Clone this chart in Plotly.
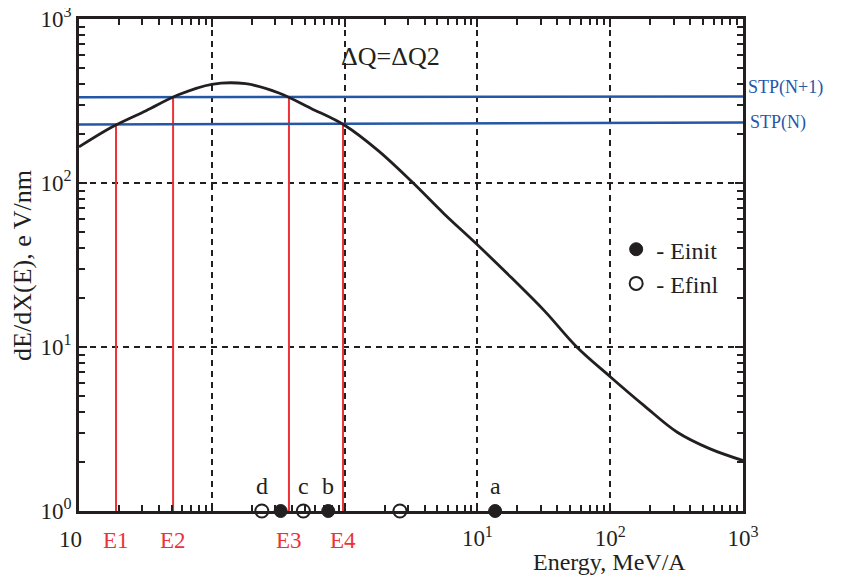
import math
import plotly.graph_objects as go

# Stopping-power curve (MeV/A vs eV/nm)
energy = [0.01, 0.018, 0.032, 0.056, 0.1, 0.18, 0.32, 0.56, 1.0, 1.8, 3.2,
          5.6, 10, 18, 32, 56, 100, 180, 320, 560, 1000]
dedx = [166, 221, 276, 345, 400, 403, 354, 285, 225, 157, 102,
        65.0, 42.0, 26.5, 16.6, 10.0, 6.59, 4.39, 3.02, 2.40, 2.03]

# STP levels (left end, right end)
stp_x = [0.01, 1000]
stp_n1 = [333, 337]
stp_n = [227, 234]

# Vertical markers E1..E4
e_names = ["E1", "E2", "E3", "E4"]
e_vals = [0.0190, 0.0511, 0.381, 0.973]
e_tops = [227, 333, 333, 227]

# Points on the energy axis
init_x = [0.330, 0.753, 13.6]
finl_x = [0.238, 0.489, 2.61]
point_labels = ["d", "c", "b", "a"]
label_x = [0.238, 0.489, 0.753, 13.6]

x_tickvals = [0.01, 0.1, 1, 10, 100, 1000]
x_ticktext = ["", "", "", "10<sup>1</sup>", "10<sup>2</sup>", "10<sup>3</sup>"]
x_first_label = "10"
y_tickvals = [1, 10, 100, 1000]
y_ticktext = ["10<sup>0</sup>", "10<sup>1</sup>", "10<sup>2</sup>", "10<sup>3</sup>"]

BLUE = "#2557a7"
RED = "#ec3237"
INK = "#231f20"
FONT = "Liberation Serif"

fig = go.Figure()

for name, ex, top in zip(e_names, e_vals, e_tops):
    fig.add_trace(go.Scatter(x=[ex, ex], y=[1, top], mode="lines",
                             line=dict(color=RED, width=2), showlegend=False,
                             hoverinfo="skip"))

fig.add_trace(go.Scatter(x=stp_x, y=stp_n1, mode="lines",
                         line=dict(color=BLUE, width=2.5), showlegend=False))
fig.add_trace(go.Scatter(x=stp_x, y=stp_n, mode="lines",
                         line=dict(color=BLUE, width=2.5), showlegend=False))

fig.add_trace(go.Scatter(x=energy, y=dedx, mode="lines",
                         line=dict(color=INK, width=2.8, shape="spline", smoothing=1.0),
                         showlegend=False))

fig.add_trace(go.Scatter(x=init_x, y=[1] * len(init_x), mode="markers", name="- Einit",
                         marker=dict(symbol="circle", size=13, color=INK,
                                     line=dict(color=INK, width=1)),
                         cliponaxis=False))
fig.add_trace(go.Scatter(x=finl_x, y=[1] * len(finl_x), mode="markers", name="- Efinl",
                         marker=dict(symbol="circle", size=13, color="white",
                                     line=dict(color=INK, width=2)),
                         cliponaxis=False))

annotations = []
for name, ex in zip(e_names, e_vals):
    annotations.append(dict(x=math.log10(ex), y=0, xref="x", yref="y", text=name,
                            showarrow=False, yshift=-29, xanchor="center", yanchor="middle",
                            font=dict(family=FONT, size=23, color=RED)))
for lab, lx in zip(point_labels, label_x):
    annotations.append(dict(x=math.log10(lx), y=0, xref="x", yref="y", text=lab,
                            showarrow=False, yshift=25, xanchor="center", yanchor="middle",
                            font=dict(family=FONT, size=24, color=INK)))
annotations.append(dict(x=math.log10(x_tickvals[0]), y=0, xref="x", yref="y",
                        text=x_first_label, showarrow=False, xshift=-9, yshift=-28,
                        xanchor="center", yanchor="middle",
                        font=dict(family=FONT, size=23, color=INK)))
annotations.append(dict(x=1.0, y=math.log10(stp_n1[1]), xref="paper", yref="y",
                        text="STP(N+1)", showarrow=False, xanchor="left", yanchor="middle",
                        xshift=3, yshift=9,
                        font=dict(family=FONT, size=18, color=BLUE)))
annotations.append(dict(x=1.0, y=math.log10(stp_n[1]), xref="paper", yref="y",
                        text="STP(N)", showarrow=False, xanchor="left", yanchor="middle",
                        xshift=5, yshift=0,
                        font=dict(family=FONT, size=18, color=BLUE)))
annotations.append(dict(x=0.469, y=0.923, xref="paper", yref="paper", text="ΔQ=ΔQ2",
                        showarrow=False, xanchor="center", yanchor="middle",
                        font=dict(family=FONT, size=26, color=INK)))
annotations.append(dict(x=0.799, y=-0.104, xref="paper", yref="paper",
                        text="Energy, MeV/A", showarrow=False,
                        xanchor="center", yanchor="middle",
                        font=dict(family=FONT, size=24, color=INK)))
annotations.append(dict(x=-0.086, y=0.50, xref="paper", yref="paper",
                        text="dE/dX(E), e V/nm", showarrow=False, textangle=-90,
                        xanchor="center", yanchor="middle",
                        font=dict(family=FONT, size=26, color=INK)))

x_minor = [k * 10 ** d for d in range(-2, 3) for k in range(2, 10)]
y_minor = [k * 10 ** d for d in range(0, 3) for k in range(2, 10)]

axis_common = dict(showline=True, linecolor=INK, linewidth=2.5, mirror="ticks",
                   ticks="inside", ticklen=8, tickwidth=2, tickcolor=INK,
                   showgrid=True, gridcolor=INK, griddash="6px,5px", gridwidth=1.5,
                   tickfont=dict(family=FONT, size=23, color=INK), zeroline=False,
                   automargin=False, ticklabeloverflow="allow")

fig.update_xaxes(type="log", range=[-2, 3], tickmode="array", tickvals=x_tickvals,
                 ticktext=x_ticktext, ticklabelstandoff=5,
                 minor=dict(tickmode="array", tickvals=x_minor, ticks="inside", ticklen=6,
                            tickwidth=1.5, tickcolor=INK, showgrid=False),
                 **axis_common)
fig.update_yaxes(type="log", range=[0, 3], tickmode="array", tickvals=y_tickvals,
                 ticktext=y_ticktext,
                 minor=dict(tickmode="array", tickvals=y_minor, ticks="inside", ticklen=6,
                            tickwidth=1.5, tickcolor=INK, showgrid=False),
                 **axis_common)

fig.update_layout(width=833, height=569,
                  margin=dict(l=71, r=98, t=11, b=66),
                  paper_bgcolor="white", plot_bgcolor="white",
                  font=dict(family=FONT, color=INK),
                  showlegend=True,
                  legend=dict(x=0.809, y=0.577, xanchor="left", yanchor="top",
                              bgcolor="rgba(0,0,0,0)",
                              font=dict(family=FONT, size=24, color=INK)),
                  annotations=annotations)

fig.write_html("out.html")
